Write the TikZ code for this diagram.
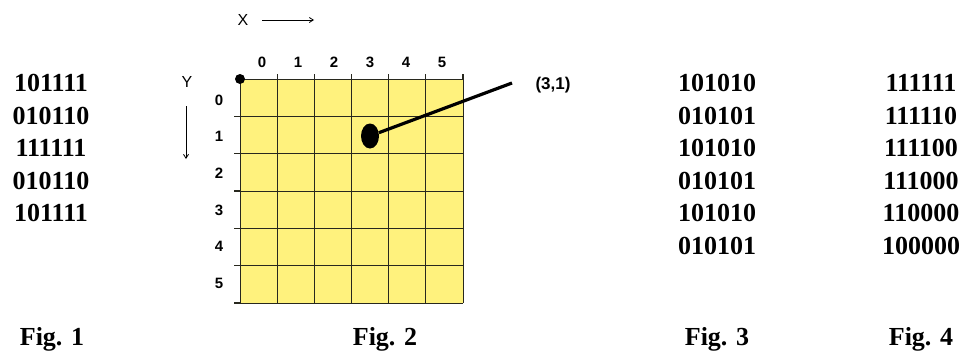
\documentclass[tikz,border=0pt]{standalone}
\usepackage{fontspec}
\setmainfont{Liberation Serif}
\newfontfamily\labelfont{Liberation Sans}
\usetikzlibrary{shapes.geometric,arrows.meta}
\definecolor{gridyellow}{RGB}{255,242,125}
\definecolor{gridline}{RGB}{40,40,30}
\tikzset{
  bits/.style={font=\bfseries\fontsize{26}{30}\selectfont, inner sep=0pt, anchor=center},
  figlabel/.style={font=\bfseries\fontsize{26}{30}\selectfont, inner sep=0pt, anchor=base},
  axislabel/.style={font=\labelfont\bfseries\fontsize{15}{17}\selectfont, inner sep=0pt, anchor=center},
  thinarrow/.style={-{Straight Barb[length=4pt,width=5pt]}, line width=0.8pt},
}
\begin{document}
\begin{tikzpicture}[x=1pt,y=-1pt]
\useasboundingbox (0,0) rectangle (965,354);
% Fig. 1
\foreach \t [count=\i from 0] in {101111,010110,111111,010110,101111}
  \node[bits] (fa\i) at (51,{83+32.6*\i}) {\t};
\node[figlabel] (fig1) at (52,345) {Fig. 1};
% Fig. 2 grid
\fill[gridyellow] (240,79) rectangle (463,303);
\foreach \k in {0,...,6} {
  \draw[gridline, line width=0.8pt] ({240+37.17*\k},79) -- ({240+37.17*\k},303);
  \draw[gridline, line width=0.8pt] (240,{79+37.33*\k}) -- (463,{79+37.33*\k});
}
\foreach \k in {1,...,6}
  \draw[gridline, line width=1.2pt] ({240+37.17*\k},79) -- ({240+37.17*\k},74);
\foreach \k in {1,...,6}
  \draw[gridline, line width=1.2pt] (240,{79+37.33*\k}) -- (234,{79+37.33*\k});
\fill (240,79) circle (5);
\foreach \k in {0,...,5} {
  \node[axislabel] (cx\k) at ({262+36*\k},62) {\k};
  \node[axislabel] (ry\k) at (219,{100+36.7*\k}) {\k};
}
\node[axislabel, font=\labelfont\fontsize{16}{18}\selectfont] (xl) at (243,20) {X};
\node[axislabel, font=\labelfont\fontsize{16}{18}\selectfont] (yl) at (187,82) {Y};
\coordinate (xa1) at (262,20);
\coordinate (xa2) at (314,20);
\draw[thinarrow] (xa1) -- (xa2);
\coordinate (ya1) at (186,106);
\coordinate (ya2) at (186,159);
\draw[thinarrow] (ya1) -- (ya2);
\node[ellipse, fill=black, minimum width=18pt, minimum height=25pt, inner sep=0pt] (dot) at (370,136) {};
\coordinate (lend) at (512,83);
\draw[line width=3.2pt] (dot) -- (lend);
\node[axislabel, font=\labelfont\bfseries\fontsize{17}{19}\selectfont, anchor=base] (pt) at (553,89) {(3,1)};
\node[figlabel] (fig2) at (385,345) {Fig. 2};
% Fig. 3
\foreach \t [count=\i from 0] in {101010,010101,101010,010101,101010,010101}
  \node[bits] (fc\i) at (717,{83+32.6*\i}) {\t};
\node[figlabel] (fig3) at (717,345) {Fig. 3};
% Fig. 4
\foreach \t [count=\i from 0] in {111111,111110,111100,111000,110000,100000}
  \node[bits] (fd\i) at (921,{83+32.6*\i}) {\t};
\node[figlabel] (fig4) at (921,345) {Fig. 4};
\end{tikzpicture}
\end{document}
